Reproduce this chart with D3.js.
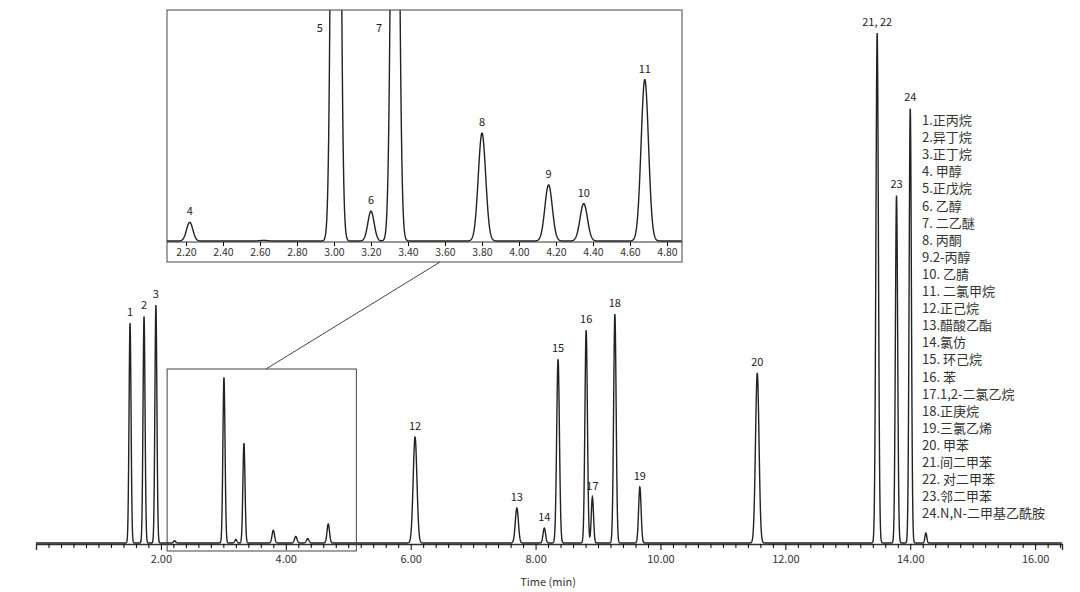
<!DOCTYPE html>
<html><head><meta charset="utf-8">
<script src="https://cdn.jsdelivr.net/npm/d3@7"></script>
<style>body{margin:0;background:#fff}text{font-family:"Noto Sans CJK SC","Noto Sans",sans-serif}</style>
</head><body>
<svg id="chart" width="1080" height="592"></svg>
<script>
//peak labels, retention times (min), heights (px above baseline) and widths (min)
const peakLabels = ['1','2','3','4','5','6','7','8','9','10','11','12','13','14','15','16','17','18','19','20','21, 22','23','24','']
const peakTimes  = [1.506,1.73,1.92,2.22,3.01,3.20,3.33,3.80,4.16,4.35,4.68,6.07,7.70,8.14,8.36,8.81,8.91,9.27,9.67,11.55,13.47,13.78,14.0,14.25]
const peakHeights= [220,227,238,2.2,166,3.5,100,12.7,6.6,4.4,19,106,35,15,184,213,46,229,56,170,510,348,435,10]
const peakWidths = [0.016,0.016,0.016,0.017,0.017,0.017,0.017,0.02,0.02,0.02,0.02,0.03,0.025,0.02,0.022,0.02,0.018,0.02,0.02,0.028,0.02,0.018,0.018,0.015]
const showLabel  = [1,1,1,0,0,0,0,0,0,0,0,1,1,1,1,1,1,1,1,1,1,1,1,0]
const legendItems = ['1.正丙烷','2.异丁烷','3.正丁烷','4. 甲醇','5.正戊烷','6. 乙醇','7. 二乙醚','8. 丙酮','9.2-丙醇','10. 乙腈','11. 二氯甲烷','12.正己烷','13.醋酸乙酯','14.氯仿','15. 环己烷','16. 苯','17.1,2-二氯乙烷','18.正庚烷','19.三氯乙烯','20. 甲苯','21.间二甲苯','22. 对二甲苯','23.邻二甲苯','24.N,N-二甲基乙酰胺']
const mainTicks = [2,4,6,8,10,12,14,16]
const insetTicks = [2.2,2.4,2.6,2.8,3.0,3.2,3.4,3.6,3.8,4.0,4.2,4.4,4.6,4.8]
const insetScale = 8.5

const svg = d3.select('#chart')
const signal = t => d3.sum(peakTimes, (p,i) => peakHeights[i]*Math.exp(-0.5*((t-p)/peakWidths[i])**2)) + 0.6*Math.exp(-0.5*((t-2.62)/0.02)**2)/insetScale

//main chart
const x = d3.scaleLinear().domain([0, 16.43]).range([36, 1062])
const base = 543
const y = v => base - v
const ts = d3.range(0, 16.43, 0.003)
svg.append('path').attr('d', d3.line().x(t => x(t)).y(t => y(signal(t)))(ts))
  .attr('fill','none').attr('stroke','#222').attr('stroke-width',1.4)
const ax = svg.append('g').attr('transform',`translate(0,${base+1})`)
  .call(d3.axisBottom(x).tickValues(mainTicks).tickFormat(d3.format('.2f')).tickSize(6))
ax.select('.domain').attr('stroke','#333').attr('stroke-width',1.4)
ax.selectAll('text').attr('font-size',11).attr('fill','#333').attr('dy','0.9em')
svg.append('g').attr('transform',`translate(0,${base+1})`)
  .call(d3.axisBottom(x).tickValues(d3.range(0.2,16.43,0.2).filter(v=>Math.abs(v/2-Math.round(v/2))>0.01)).tickFormat('').tickSize(4))
  .select('.domain').remove()
svg.append('text').attr('x',x(8.2)).attr('y',586).attr('text-anchor','middle').attr('font-size',11).attr('fill','#333').text('Time (min)')
svg.selectAll('.plabel').data(peakLabels.filter((d,i)=>showLabel[i])).join('text')
  .attr('x',(d)=>x(peakTimes[peakLabels.indexOf(d)])).attr('y',d=>y(peakHeights[peakLabels.indexOf(d)])-7)
  .attr('text-anchor','middle').attr('font-size',11).attr('fill','#222').text(d=>d)

//zoom box and connector
svg.append('rect').attr('x',x(2.10)).attr('y',369).attr('width',x(5.13)-x(2.10)).attr('height',182)
  .attr('fill','none').attr('stroke','#444').attr('stroke-width',1)
svg.append('line').attr('x1',266).attr('y1',369).attr('x2',440).attr('y2',262).attr('stroke','#444')

//inset
const xi = d3.scaleLinear().domain([2.2,4.8]).range([186,667])
const ib = 241
const ig = svg.append('g')
svg.append('clipPath').attr('id','ic').append('rect').attr('x',167).attr('y',10).attr('width',515).attr('height',252)
const its = d3.range(2.097, 4.88, 0.002)
ig.append('path').attr('clip-path','url(#ic)')
  .attr('d', d3.line().x(t=>xi(t)).y(t=>ib - insetScale*signal(t))(its))
  .attr('fill','none').attr('stroke','#222').attr('stroke-width',1.4)
ig.append('rect').attr('x',167).attr('y',10).attr('width',515).attr('height',252).attr('fill','none').attr('stroke','#444')
const iax = ig.append('g').attr('transform',`translate(0,${ib+1})`)
  .call(d3.axisBottom(xi).tickValues(insetTicks).tickFormat(d3.format('.2f')).tickSize(4))
iax.select('.domain').remove()
ig.append('line').attr('x1',167).attr('x2',682).attr('y1',ib+1).attr('y2',ib+1).attr('stroke','#333').attr('stroke-width',1.2)
iax.selectAll('text').attr('font-size',10.5).attr('fill','#333')
const insetIdx = [3,4,5,6,7,8,9,10]
ig.selectAll('.ilabel').data(insetIdx).join('text')
  .attr('x',i => (i===4||i===6) ? xi(peakTimes[i])-16 : xi(peakTimes[i]))
  .attr('y',i => (i===4||i===6) ? 32 : ib - insetScale*peakHeights[i]-7)
  .attr('text-anchor','middle').attr('font-size',11).attr('fill','#222').text(i=>peakLabels[i])

//legend
svg.selectAll('.leg').data(legendItems).join('text')
  .attr('x',922).attr('y',(d,i)=>125+i*17.1).attr('font-size',13).attr('fill','#333').text(d=>d)
</script>
</body></html>
